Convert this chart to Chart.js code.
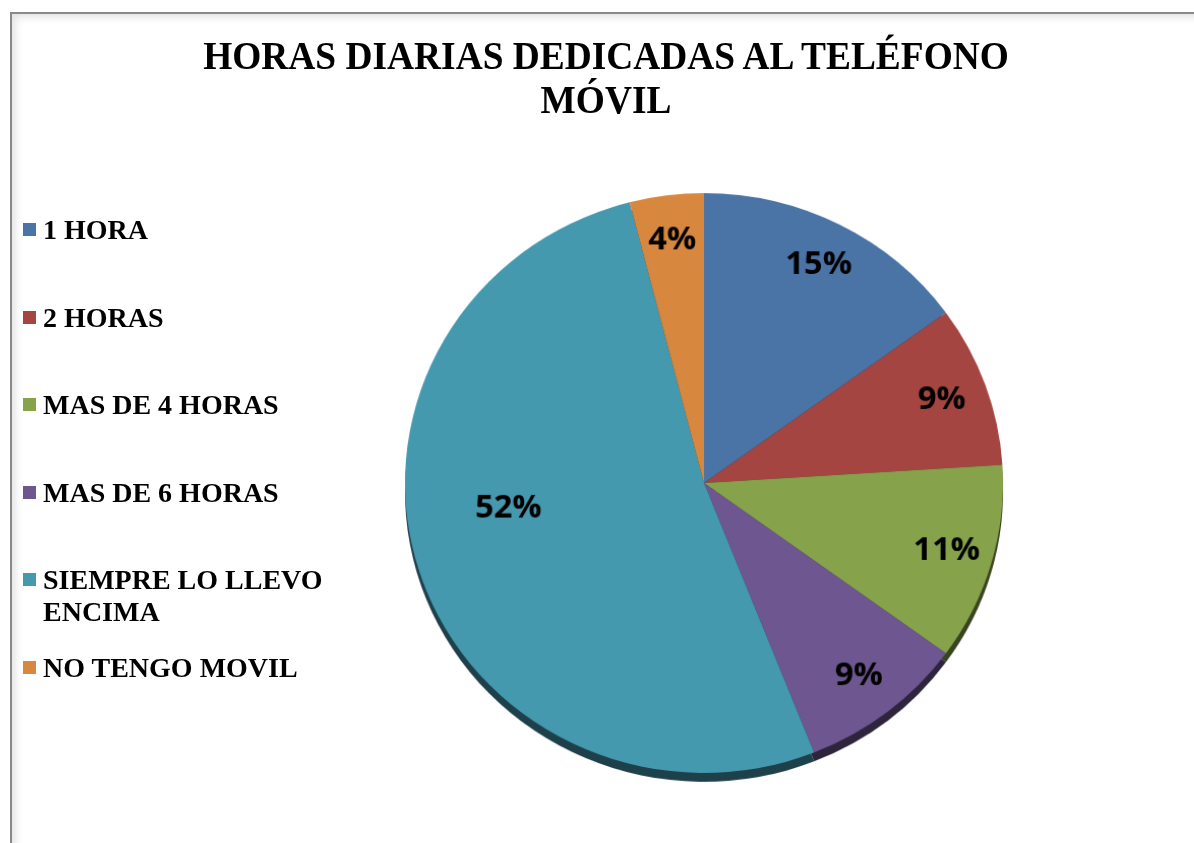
<!DOCTYPE html>
<html>
<head>
<meta charset="utf-8">
<script src="https://cdn.jsdelivr.net/npm/chart.js@4/dist/chart.umd.min.js"></script>
<style>
    html, body { margin: 0; padding: 0; background: #fff; }
    body { width: 1194px; height: 843px; position: relative; overflow: hidden; }
    .frame {
        position: absolute; left: 10px; top: 12px; width: 1200px; height: 850px;
        border: 2px solid #8a8a8a; box-sizing: border-box;
        box-shadow: inset 3px 3px 8px rgba(0,0,0,0.12);
    }
    #chart-wrap {
        position: absolute; left: 0; top: 0; width: 1194px; height: 843px;
        transform: scale(1.017, 0.986); transform-origin: 704px 483px;
    }
    .title {
        position: absolute; left: 106px; width: 1000px; top: 34px;
        text-align: center; font-family: "Liberation Serif", "Times New Roman", serif;
        font-weight: bold; font-size: 40px; line-height: 44px; color: #000;
        transform: scaleX(0.935);
    }
    .legend-item { position: absolute; left: 23px; width: 320px; }
    .legend-box { position: absolute; left: 0; top: 9px; width: 13px; height: 13px; }
    .legend-text {
        position: absolute; left: 20px; width: 300px;
        font-family: "Liberation Serif", "Times New Roman", serif;
        font-weight: bold; font-size: 28px; line-height: 32px; color: #000;
    }
</style>
</head>
<body>
<div class="frame"></div>
<div id="chart-wrap"><canvas id="pie"></canvas></div>
<div class="title">HORAS DIARIAS DEDICADAS AL TELÉFONO<br>MÓVIL</div>
<div id="legend"></div>

<script>
const categories = ["1 HORA", "2 HORAS", "MAS DE 4 HORAS", "MAS DE 6 HORAS", "SIEMPRE LO LLEVO ENCIMA", "NO TENGO MOVIL"];
const percentages = [15, 9, 11, 9, 52, 4];
const sliceColors = ["#4a73a6", "#a54542", "#86a24b", "#6e5690", "#4599af", "#d8873f"];

function darken(hex, f) {
    const n = parseInt(hex.slice(1), 16);
    const r = Math.round(((n >> 16) & 255) * f);
    const g = Math.round(((n >> 8) & 255) * f);
    const b = Math.round((n & 255) * f);
    return `rgb(${r},${g},${b})`;
}

// borde inferior oscuro (efecto 3D)
const rimPlugin = {
    id: "rim",
    beforeDatasetsDraw(chart) {
        const ctx = chart.ctx;
        const meta = chart.getDatasetMeta(0);
        ctx.save();
        meta.data.forEach((arc, i) => {
            ctx.beginPath();
            ctx.moveTo(arc.x, arc.y + 9);
            ctx.arc(arc.x, arc.y + 9, arc.outerRadius, arc.startAngle, arc.endAngle);
            ctx.closePath();
            ctx.fillStyle = darken(sliceColors[i], 0.42);
            ctx.fill();
        });
        ctx.restore();
    }
};

// etiquetas de porcentaje dentro de cada sector
const labelPlugin = {
    id: "pctLabels",
    afterDatasetsDraw(chart) {
        const ctx = chart.ctx;
        const meta = chart.getDatasetMeta(0);
        const max = Math.max(...percentages);
        ctx.save();
        ctx.font = "bold 32px 'Open Sans', sans-serif";
        ctx.fillStyle = "#000";
        ctx.textAlign = "center";
        ctx.textBaseline = "middle";
        meta.data.forEach((arc, i) => {
            const mid = (arc.startAngle + arc.endAngle) / 2 + (percentages[i] === max ? 0.18 : 0);
            const f = percentages[i] === max ? 0.66 : 0.845;
            const x = arc.x + Math.cos(mid) * arc.outerRadius * f;
            const y = arc.y + Math.sin(mid) * arc.outerRadius * f;
            ctx.fillText(percentages[i] + "%", x, y);
        });
        ctx.restore();
    }
};

new Chart(document.getElementById("pie"), {
    type: "pie",
    data: {
        labels: categories,
        datasets: [{
            data: percentages,
            backgroundColor: sliceColors,
            borderWidth: 0,
        }],
    },
    options: {
        responsive: true,
        maintainAspectRatio: false,
        animation: false,
        layout: { padding: { left: 410, right: 196, top: 189, bottom: 66 } },
        plugins: {
            legend: { display: false },
            tooltip: { enabled: false },
            title: { display: false },
        },
    },
    plugins: [rimPlugin, labelPlugin],
});

const legendEl = document.getElementById("legend");
legendEl.innerHTML = categories.map((c, i) => `
    <div class="legend-item" style="top:${214 + i * 87.6}px">
        <div class="legend-box" style="background:${sliceColors[i]}"></div>
        <div class="legend-text">${c}</div>
    </div>
`).join("");
</script>
</body>
</html>
